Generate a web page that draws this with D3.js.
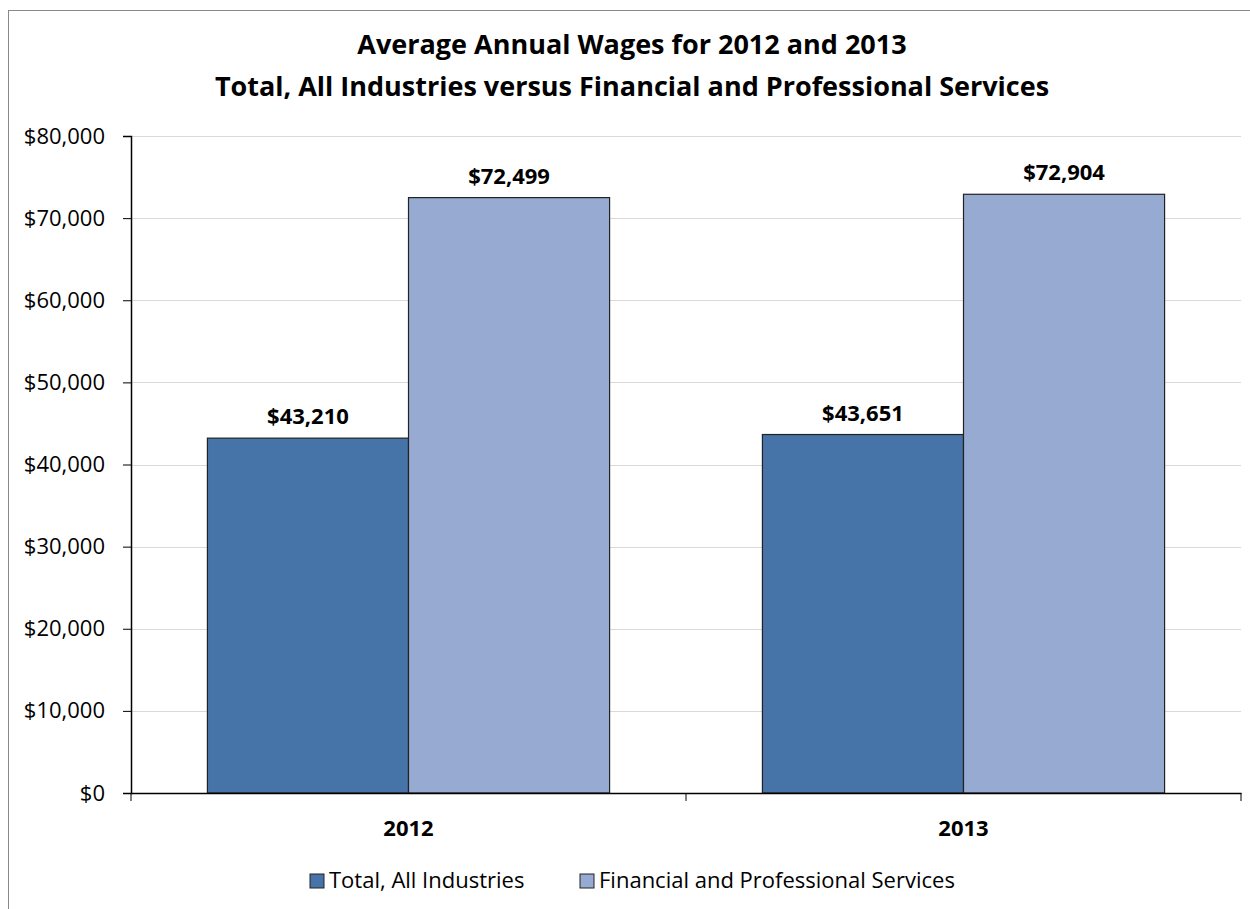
<!DOCTYPE html>
<html>
<head>
<meta charset="utf-8">
<script src="https://cdn.jsdelivr.net/npm/d3@7"></script>
<style>
  body { margin: 0; background: #fff; }
  text { font-family: "Open Sans", "Noto Sans", sans-serif; }
</style>
</head>
<body>
<div id="chart"></div>
<script>
const years = ["2012", "2013"];
const seriesNames = ["Total, All Industries", "Financial and Professional Services"];
const totalWages = [43210, 43651];
const finProfWages = [72499, 72904];
const yTicks = [0, 10000, 20000, 30000, 40000, 50000, 60000, 70000, 80000];
const titleLines = [
  "Average Annual Wages for 2012 and 2013",
  "Total, All Industries versus Financial and Professional Services"
];

const width = 1250;
const height = 909;
const margin = { top: 136, right: 9, bottom: 116, left: 131 };
const colors = ["#4674A8", "#97AAD2"];

const data = years.map((yr, i) => ({
  year: yr,
  values: [totalWages[i], finProfWages[i]]
}));

const svg = d3.select("#chart")
  .append("svg")
  .attr("width", width)
  .attr("height", height);

// outer chart border
svg.append("rect")
  .attr("x", 8.5)
  .attr("y", 10.5)
  .attr("width", width + 20)
  .attr("height", height + 20)
  .attr("fill", "none")
  .attr("stroke", "#888")
  .attr("stroke-width", 1);

const x = d3.scaleBand()
  .domain(years)
  .range([margin.left, width - margin.right]);

const inner = d3.scaleBand()
  .domain([0, 1])
  .range([0, x.bandwidth()])
  .paddingOuter(0.38)
  .paddingInner(0);

const y = d3.scaleLinear()
  .domain([0, 80000])
  .range([height - margin.bottom, margin.top]);

// gridlines
svg.append("g")
  .selectAll("line")
  .data(yTicks.filter(d => d > 0))
  .join("line")
  .attr("x1", margin.left)
  .attr("x2", width - margin.right)
  .attr("y1", d => Math.round(y(d)) + 0.5)
  .attr("y2", d => Math.round(y(d)) + 0.5)
  .attr("stroke", "#d9d9d9")
  .attr("stroke-width", 1);

// bars
const groups = svg.append("g")
  .selectAll("g")
  .data(data)
  .join("g")
  .attr("transform", d => `translate(${x(d.year)},0)`);

groups.selectAll("rect")
  .data(d => d.values.map((v, i) => ({ v, i })))
  .join("rect")
  .attr("x", d => inner(d.i))
  .attr("y", d => y(d.v))
  .attr("width", inner.bandwidth())
  .attr("height", d => y(0) - y(d.v))
  .attr("fill", d => colors[d.i])
  .attr("stroke", "#222")
  .attr("stroke-width", 1.2);

groups.selectAll("text")
  .data(d => d.values.map((v, i) => ({ v, i })))
  .join("text")
  .attr("x", d => inner(d.i) + inner.bandwidth() / 2)
  .attr("y", d => y(d.v) - 14)
  .attr("text-anchor", "middle")
  .style("font-size", "22px")
  .style("font-weight", "bold")
  .text(d => "$" + d3.format(",")(d.v));

// y axis
const yAxis = d3.axisLeft(y)
  .tickValues(yTicks)
  .tickSize(8)
  .tickFormat(d => "$" + d3.format(",")(d));

const gy = svg.append("g")
  .attr("transform", `translate(${margin.left},0)`)
  .call(yAxis);
gy.select(".domain").attr("stroke", "#000").attr("stroke-width", 1.5);
gy.selectAll(".tick line").attr("stroke", "#000");
gy.selectAll(".tick text")
  .attr("x", -26)
  .attr("fill", "#000")
  .style("font-size", "22px")
  .style("font-family", "'Open Sans', sans-serif");

// x axis
const xAxis = d3.axisBottom(x).tickSize(0);
const gx = svg.append("g")
  .attr("transform", `translate(0,${height - margin.bottom})`)
  .call(xAxis);
gx.select(".domain").attr("stroke", "#000").attr("stroke-width", 1.5);
gx.selectAll(".tick text")
  .attr("y", 43)
  .attr("dy", null)
  .attr("fill", "#000")
  .style("font-size", "22px")
  .style("font-weight", "bold")
  .style("font-family", "'Open Sans', sans-serif");

// category boundary tick marks
svg.append("g")
  .selectAll("line")
  .data([...years.map(d => x(d)), x(years[years.length - 1]) + x.bandwidth()])
  .join("line")
  .attr("x1", d => d)
  .attr("x2", d => d)
  .attr("y1", height - margin.bottom)
  .attr("y2", height - margin.bottom + 8)
  .attr("stroke", "#000");

// title
svg.append("g")
  .selectAll("text")
  .data(titleLines)
  .join("text")
  .attr("x", 632)
  .attr("y", (d, i) => 54 + i * 42)
  .attr("text-anchor", "middle")
  .style("font-size", "27px")
  .style("font-weight", "bold")
  .text(d => d);

// legend
const legendX = [310, 580];
const legend = svg.append("g")
  .selectAll("g")
  .data(seriesNames)
  .join("g")
  .attr("transform", (d, i) => `translate(${legendX[i]},874)`);

legend.append("rect")
  .attr("width", 14)
  .attr("height", 14)
  .attr("fill", (d, i) => colors[i])
  .attr("stroke", "#222")
  .attr("stroke-width", 1);

legend.append("text")
  .attr("x", 19)
  .attr("y", 14)
  .style("font-size", "22px")
  .text(d => d);
</script>
</body>
</html>
